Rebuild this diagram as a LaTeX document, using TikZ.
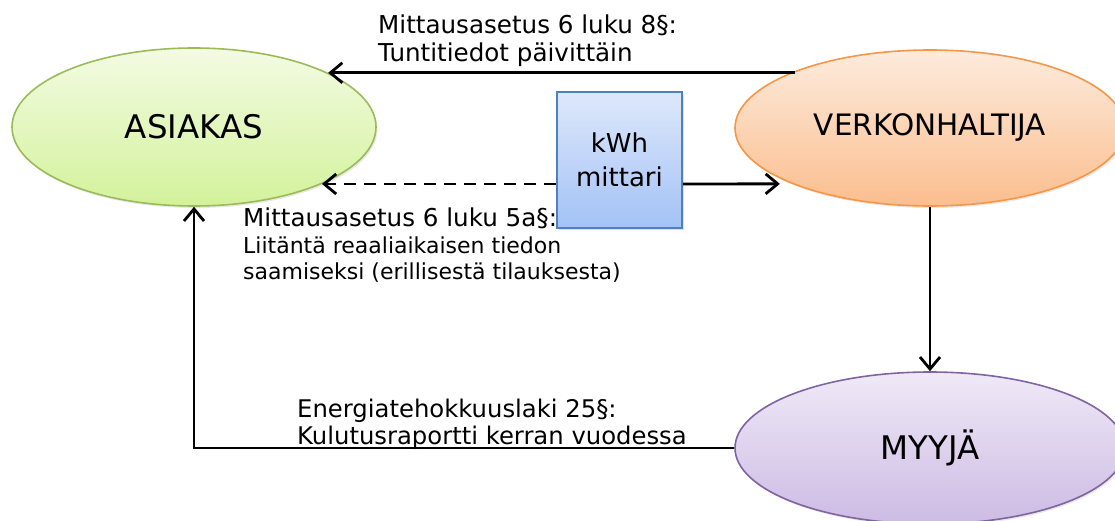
\documentclass[tikz,border=0pt]{standalone}
\usepackage{fontspec}
\setmainfont{DejaVu Sans}
\usetikzlibrary{arrows.meta,shadows,shapes.geometric}

\definecolor{grnTop}{HTML}{F3FBE3}
\definecolor{grnBot}{HTML}{D3F29B}
\definecolor{grnLine}{HTML}{9BBB59}
\definecolor{orTop}{HTML}{FDEBDD}
\definecolor{orBot}{HTML}{FBBE8E}
\definecolor{orLine}{HTML}{F79646}
\definecolor{puTop}{HTML}{EFE9F7}
\definecolor{puBot}{HTML}{CDBBE4}
\definecolor{puLine}{HTML}{8064A2}
\definecolor{blTop}{HTML}{DEE8FB}
\definecolor{blBot}{HTML}{A3C2F6}
\definecolor{blLine}{HTML}{4F81BD}

\tikzset{
  party/.style={ellipse, inner sep=0pt, line width=1.6pt,
    minimum width=#1, minimum height=158pt,
    drop shadow={opacity=0.18, shadow xshift=1.5pt, shadow yshift=-2pt}},
  meterbox/.style={rectangle, draw=blLine, line width=1.5pt,
    top color=blTop, bottom color=blBot,
    minimum width=125pt, minimum height=136pt, inner sep=0pt,
    drop shadow={opacity=0.25, shadow xshift=2pt, shadow yshift=-2pt},
    align=center, font=\fontsize{26}{34}\selectfont},
  flow/.style={line width=2.8pt, -{Straight Barb[length=12pt,width=20pt,line width=2.8pt]}},
  law/.style={anchor=base west, inner sep=0pt},
}

\begin{document}
\begin{tikzpicture}[x=1pt, y=-1pt]
\useasboundingbox (0,0) rectangle (1115,521);

% the three parties
\node[party=364pt, draw=grnLine, top color=grnTop, bottom color=grnBot,
      font=\fontsize{32.5}{38}\selectfont] (asiakas) at (194,127) {ASIAKAS};
\node[party=390pt, draw=orLine, top color=orTop, bottom color=orBot,
      minimum height=156pt, font=\fontsize{29.5}{34}\selectfont] (verkko) at (930,128) {VERKONHALTIJA};
\node[party=390pt, draw=puLine, top color=puTop, bottom color=puBot,
      minimum height=152pt, font=\fontsize{32.5}{38}\selectfont] (myyja) at (930,448) {MYYJÄ};

% the meter
\node[meterbox] (mittari) at (619.5,160) {kWh\\mittari};

% data flows
\coordinate (aHigh) at (asiakas.22.6);
\coordinate (aLow) at (asiakas.-24);
\draw[flow] (verkko.157.6 |- aHigh) -- (aHigh);
\draw[flow, dash pattern=on 12pt off 8pt] (mittari.west |- aLow) -- (aLow);
\draw[flow, shorten >=12pt] (mittari.east |- aLow) -- (verkko.202.4);
\draw[flow] (verkko.south) -- (myyja.north);
\draw[flow] (myyja.west) -| (asiakas.south);

% legal references
\node[law, font=\fontsize{24.6}{28}\selectfont] (t1a) at (378,34) {Mittausasetus 6 luku 8§:};
\node[law, font=\fontsize{24.6}{28}\selectfont] (t1b) at (378,62) {Tuntitiedot päivittäin};

\node[law, font=\fontsize{24.6}{28}\selectfont] (t2a) at (243,227) {Mittausasetus 6 luku 5a§:};
\node[law, font=\fontsize{22}{26}\selectfont] (t2b) at (243,253) {Liitäntä reaaliaikaisen tiedon};
\node[law, font=\fontsize{22}{26}\selectfont] (t2c) at (243,279) {saamiseksi (erillisestä tilauksesta)};

\node[law, font=\fontsize{24.3}{28}\selectfont] (t3a) at (297,417) {Energiatehokkuuslaki 25§:};
\node[law, font=\fontsize{24.3}{28}\selectfont] (t3b) at (297,444) {Kulutusraportti kerran vuodessa};
\end{tikzpicture}
\end{document}
